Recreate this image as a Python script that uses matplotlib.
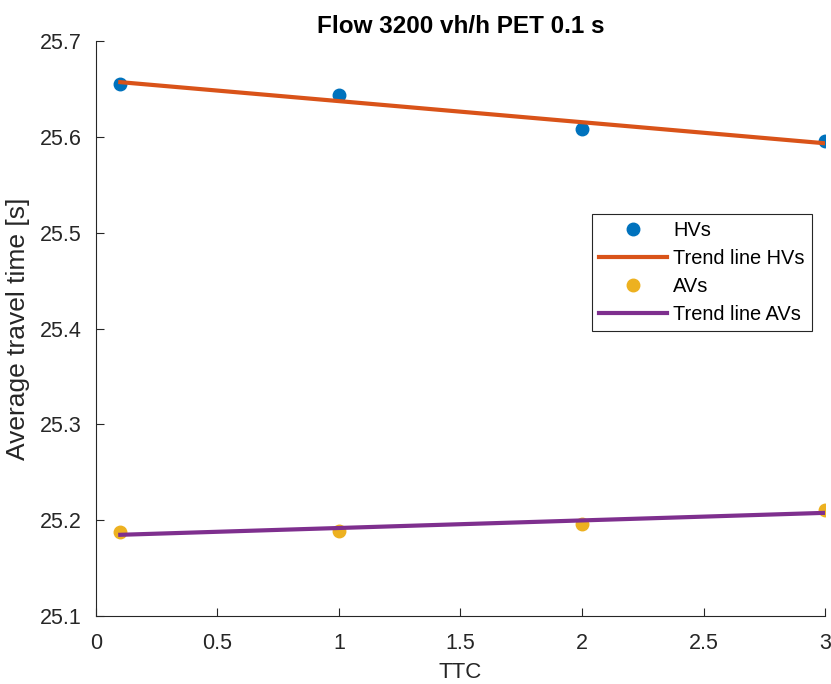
import numpy as np
import matplotlib
matplotlib.use("Agg")
import matplotlib.pyplot as plt

plt.rcParams['font.family'] = ['Liberation Sans', 'DejaVu Sans']

# data
ttc = [0.1, 1, 2, 3]
hv_time = [25.655, 25.644, 25.608, 25.596]
av_time = [25.188, 25.189, 25.196, 25.211]

title = "Flow 3200 vh/h PET 0.1 s"
xticks = [0, 0.5, 1, 1.5, 2, 2.5, 3]
yticks = [25.1, 25.2, 25.3, 25.4, 25.5, 25.6, 25.7]

# linear trend lines (least squares, like MATLAB polyfit)
hv_fit = np.polyfit(ttc, hv_time, 1)
av_fit = np.polyfit(ttc, av_time, 1)
xfit = np.array([ttc[0], ttc[-1]])

fig = plt.figure(figsize=(8.31, 6.84), dpi=100)
ax = fig.add_axes([0.1155, 0.0994, 0.8773, 0.8406])

ax.plot(ttc, hv_time, 'o', color='#0072BD', markersize=9, label='HVs', zorder=3)
ax.plot(xfit, np.polyval(hv_fit, xfit), '-', color='#D95319', linewidth=3, label='Trend line HVs', zorder=4)
ax.plot(ttc, av_time, 'o', color='#EDB120', markersize=9, label='AVs', zorder=3)
ax.plot(xfit, np.polyval(av_fit, xfit), '-', color='#7E2F8E', linewidth=3, label='Trend line AVs', zorder=4)

ax.set_xlim(0, 3)
ax.set_ylim(25.1, 25.7)
ax.set_xticks(xticks)
ax.set_yticks(yticks)
ax.set_xticklabels(['0', '0.5', '1', '1.5', '2', '2.5', '3'])
ax.set_yticklabels(['%.1f' % v for v in yticks])

ax.spines['top'].set_visible(False)
ax.spines['right'].set_visible(False)
for s in ['left', 'bottom']:
    ax.spines[s].set_color('#262626')
    ax.spines[s].set_linewidth(0.8)
ax.tick_params(direction='in', length=6, width=0.8, colors='#262626', labelsize=15.5)
ax.tick_params(axis='y', pad=10)
ax.tick_params(axis='x', pad=12)

ax.set_xlabel('TTC', fontsize=16, color='#262626', labelpad=6)
ax.set_ylabel('Average travel time [s]', fontsize=19, color='#262626', labelpad=7)
ax.set_title(title, fontsize=17.5, fontweight='bold', pad=6)

leg = ax.legend(loc='upper right', bbox_to_anchor=(0.982, 0.699), fontsize=14.4,
                fancybox=False, framealpha=1, edgecolor='#262626',
                handlelength=3.4, handletextpad=0.3, borderpad=0.35,
                labelspacing=0.45, borderaxespad=0)
leg.get_frame().set_linewidth(0.8)

fig.savefig('out.png', dpi=100)
